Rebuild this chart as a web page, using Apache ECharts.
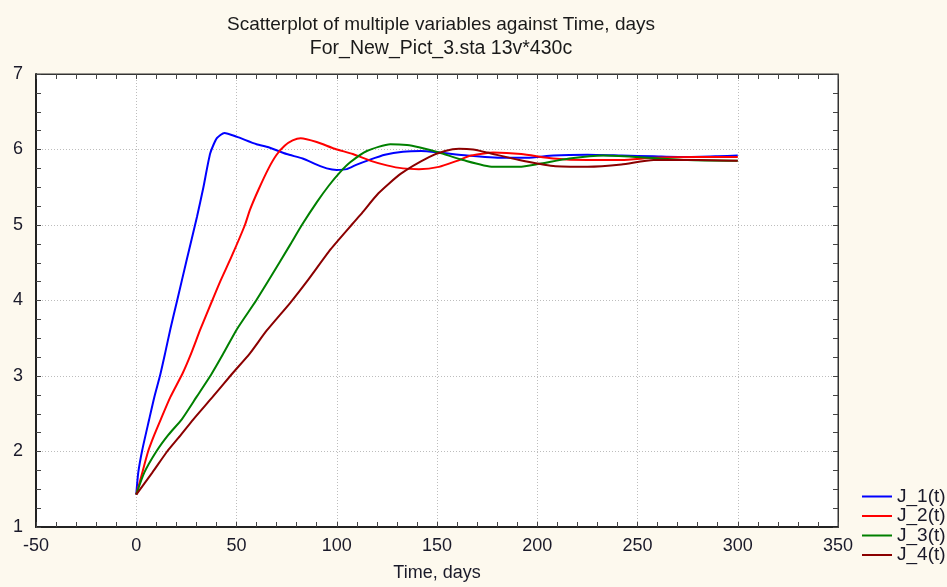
<!DOCTYPE html>
<html>
<head>
<meta charset="utf-8">
<title>Scatterplot of multiple variables against Time</title>
<script src="https://cdn.jsdelivr.net/npm/echarts@6.0.0/dist/echarts.min.js"></script>
<style>
  html, body { margin: 0; padding: 0; background: #fdf9ee; }
  #chart { width: 947px; height: 587px; }
</style>
</head>
<body>
<div id="chart"></div>
<script>
// series names
const seriesNames = ['J_1(t)', 'J_2(t)', 'J_3(t)', 'J_4(t)']

// [time, value] pairs
const j1 = [
  [0, 1.43], [1, 1.72], [3, 2.02], [6.4, 2.42], [9, 2.72], [12, 3.02], [14.3, 3.29], [17, 3.62],
  [20.4, 4.0], [25, 4.52], [30.3, 5.11], [33.5, 5.5], [36.9, 5.95], [40.2, 6.15], [44, 6.22],
  [50, 6.17], [60, 6.07], [66, 6.03], [75, 5.94], [83, 5.88], [90, 5.8], [95, 5.75], [100, 5.73],
  [105, 5.74], [110, 5.8], [116, 5.86], [124, 5.93], [133, 5.97], [142, 5.98], [151, 5.96],
  [165, 5.92], [183, 5.89], [195, 5.89], [208, 5.92], [225, 5.93], [242, 5.92], [258, 5.91],
  [275, 5.9], [290, 5.91], [300, 5.92]
]
const j2 = [
  [0, 1.43], [2, 1.62], [5.9, 2.0], [9, 2.22], [12.3, 2.43], [17, 2.72], [23.2, 3.04], [27.4, 3.3],
  [32, 3.62], [37.9, 4.0], [42, 4.26], [47.5, 4.58], [54.2, 5.0], [56.7, 5.2], [61, 5.47],
  [66, 5.75], [70, 5.93], [74, 6.05], [78, 6.12], [82, 6.15], [90, 6.1], [99, 6.01], [108, 5.94],
  [117, 5.85], [125, 5.79], [133, 5.75], [141, 5.74], [151, 5.77], [160, 5.85], [167, 5.92],
  [178, 5.96], [192, 5.94], [208, 5.88], [225, 5.86], [242, 5.86], [258, 5.89], [280, 5.9],
  [300, 5.9]
]
const j3 = [
  [0, 1.43], [4, 1.72], [10, 2.0], [16, 2.22], [22.8, 2.43], [30, 2.72], [37.4, 3.02], [43.3, 3.29],
  [50.2, 3.62], [59.8, 4.0], [66.8, 4.3], [76.8, 4.74], [82.6, 5.0], [90, 5.3],
  [96, 5.52], [101.7, 5.7], [106.7, 5.83], [115, 5.98], [126.7, 6.07], [135, 6.06], [141, 6.03],
  [151, 5.96], [163, 5.86], [178, 5.77], [191, 5.77], [201, 5.81], [216, 5.88], [233, 5.92],
  [250, 5.9], [275, 5.86], [300, 5.85]
]
const j4 = [
  [0, 1.43], [8, 1.72], [15.4, 2.0], [21, 2.18], [28.6, 2.43], [38, 2.72], [47.5, 3.02],
  [56.7, 3.3], [65, 3.6], [76.8, 3.97], [85.9, 4.28], [97, 4.68], [108, 5.02],
  [112, 5.14], [120.8, 5.42], [132, 5.68], [146, 5.9], [154, 5.98], [161, 6.01], [168, 6.0],
  [175, 5.96], [191, 5.86], [208, 5.78], [225, 5.77], [242, 5.8], [258, 5.86], [280, 5.86],
  [300, 5.85]
]
const seriesData = [j1, j2, j3, j4]
const seriesColors = ['#0000ff', '#ff0000', '#008000', '#8b0000']

const chart = echarts.init(document.getElementById('chart'))

const labelFont = { fontFamily: 'Liberation Sans', fontSize: 18, color: '#1a1a2a' }
const tickStyle = { show: true, inside: true, length: 5, lineStyle: { color: '#444', width: 1 } }
const minorStyle = { show: true, length: 5, lineStyle: { color: '#444', width: 1 } }
const gridLine = { show: true, lineStyle: { color: '#bdbdbd', type: [1, 2], width: 1 } }

const option = {
  backgroundColor: '#fdf9ee',
  animation: false,
  title: {
    text: 'Scatterplot of multiple variables against Time, days',
    subtext: 'For_New_Pict_3.sta 13v*430c',
    left: 436,
    textAlign: 'center',
    top: 10,
    itemGap: 5,
    textStyle: { fontFamily: 'Liberation Sans', fontSize: 19, fontWeight: 'normal', color: '#1a1a1a' },
    subtextStyle: { fontFamily: 'Liberation Sans', fontSize: 19.5, color: '#1a1a1a' }
  },
  legend: {
    data: seriesNames,
    orient: 'vertical',
    left: 857,
    top: 482,
    itemWidth: 30,
    itemHeight: 2,
    itemGap: 0.5,
    icon: 'rect',
    textStyle: { fontFamily: 'Liberation Sans', fontSize: 19, color: '#1a1a2a' }
  },
  grid: {
    left: 36, right: 109, top: 74, bottom: 58,
    show: true, backgroundColor: '#ffffff', borderColor: '#333', borderWidth: 1
  },
  xAxis: [
    {
      type: 'value', min: -50, max: 350, interval: 50,
      name: 'Time, days', nameLocation: 'middle', nameGap: 37,
      nameTextStyle: labelFont,
      axisLine: { show: true, onZero: false, lineStyle: { color: '#222', width: 2 } },
      axisTick: tickStyle,
      minorTick: Object.assign({ splitNumber: 5 }, minorStyle),
      axisLabel: Object.assign({ margin: 10 }, labelFont),
      splitLine: gridLine
    },
    {
      type: 'value', position: 'top', min: -50, max: 350, interval: 50,
      axisLine: { show: true, onZero: false, lineStyle: { color: '#333', width: 1 } },
      axisTick: tickStyle,
      minorTick: Object.assign({ splitNumber: 5 }, minorStyle),
      axisLabel: { show: false },
      splitLine: { show: false }
    }
  ],
  yAxis: [
    {
      type: 'value', min: 1, max: 7, interval: 1,
      axisLine: { show: true, onZero: false, lineStyle: { color: '#222', width: 2 } },
      axisTick: tickStyle,
      minorTick: Object.assign({ splitNumber: 4 }, minorStyle),
      axisLabel: Object.assign({ margin: 13 }, labelFont),
      splitLine: gridLine
    },
    {
      type: 'value', position: 'right', min: 1, max: 7, interval: 1,
      axisLine: { show: true, onZero: false, lineStyle: { color: '#333', width: 1 } },
      axisTick: tickStyle,
      minorTick: Object.assign({ splitNumber: 4 }, minorStyle),
      axisLabel: { show: false },
      splitLine: { show: false }
    }
  ],
  series: seriesNames.map((name, i) => ({
    name: name,
    type: 'line',
    data: seriesData[i],
    smooth: 0.2,
    showSymbol: false,
    itemStyle: { color: seriesColors[i] },
    lineStyle: { color: seriesColors[i], width: 2 }
  }))
}

chart.setOption(option)
</script>
</body>
</html>
